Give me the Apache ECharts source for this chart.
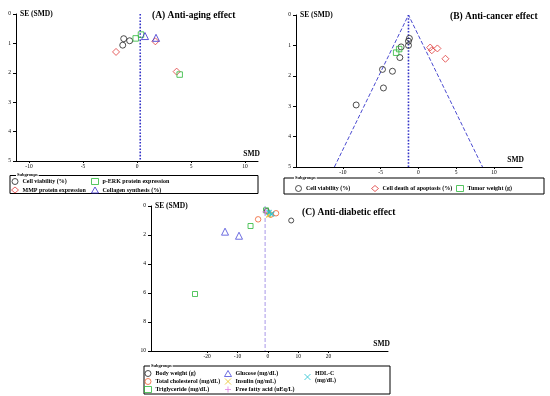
<!DOCTYPE html>
<html><head><meta charset="utf-8">
<script src="https://cdn.jsdelivr.net/npm/echarts@6/dist/echarts.min.js"></script>
<style>html,body{margin:0;padding:0;background:#fff}#c{width:550px;height:396px}</style>
</head><body><div id="c"></div>
<script>
// ---------- Panel A: Anti-aging (SMD, SE) ----------
const cellViabilityA = [[-1.23,0.84],[-0.68,0.91],[-1.32,1.06]];
const mmpA = [[-1.94,1.29],[1.7,0.93],[3.67,1.96]];
const perkA = [[-0.12,0.83],[0.37,0.70],[3.95,2.06]];
const collagenA = [[0.74,0.75],[1.76,0.81]];
const pooledA = 0.3;
const ticksA = [-10,-5,0,5,10];
// ---------- Panel B: Anti-cancer ----------
const cellViabilityB = [[-1.2,0.77],[-1.32,0.86],[-1.32,1.0],[-2.29,1.05],[-2.46,1.40],[-4.76,1.79],[-3.44,1.85],[-4.63,2.40],[-8.24,2.96]];
const apoptosisB = [[1.55,1.07],[1.77,1.16],[2.51,1.10],[3.57,1.44]];
const tumorB = [[-2.55,1.12],[-2.95,1.24]];
const pooledB = -1.32;
const funnelHalfWidthB = 9.8; // at SE = 5
const ticksB = [-10,-5,0,5,10];
// ---------- Panel C: Anti-diabetic ----------
const bodyWeightC = [[-0.33,0.35],[7.7,1.0]];
const cholesterolC = [[-3.2,0.92],[2.7,0.5],[0.9,0.6]];
const triglycerideC = [[-5.7,1.38],[-24,6.07],[-0.6,0.3]];
const glucoseC = [[-14.1,1.77],[-9.5,2.05]];
const insulinC = [[0.3,0.62]];
const ffaC = [[-0.8,0.4]];
const hdlC = [[1.3,0.55],[0.4,0.45]];
const pooledC = -0.9;
const ticksC = [-20,-10,0,10,20];

const SERIF = '"Liberation Serif","DejaVu Serif",serif';
const X_PATH = 'path://M0,0L10,10M10,0L0,10';
const PLUS_PATH = 'path://M5,0L5,10M0,5L10,5';

function hollow(c, w){ return {color:'rgba(255,255,255,0)', borderColor:c, borderWidth:w||1}; }

function xAx(gi, min, max, ticks){
  return {type:'value', gridIndex:gi, min:min, max:max,
    axisLine:{onZero:false, lineStyle:{color:'#000', width:1}},
    splitLine:{show:false},
    axisTick:{show:true, customValues:ticks, length:2, lineStyle:{color:'#000'}},
    axisLabel:{customValues:ticks, fontSize:5.5, color:'#000', margin:3, fontFamily:SERIF},
    name:'SMD', nameLocation:'end', nameGap:2,
    nameTextStyle:{fontFamily:SERIF, fontWeight:'bold', fontSize:7.5, color:'#000', align:'right', verticalAlign:'bottom', padding:[0,0,3,0]}};
}
function yAx(gi, max, interval){
  return {type:'value', gridIndex:gi, min:0, max:max, interval:interval, inverse:true,
    axisLine:{onZero:false, lineStyle:{color:'#000', width:1}},
    splitLine:{show:false},
    axisTick:{show:true, length:3, lineStyle:{color:'#000'}},
    axisLabel:{fontSize:5.5, color:'#000', margin:5, fontFamily:SERIF},
    name:'SE (SMD)', nameLocation:'start', nameGap:0,
    nameTextStyle:{fontFamily:SERIF, fontWeight:'bold', fontSize:7.5, color:'#000', align:'left', verticalAlign:'middle', padding:[0,0,0,4]}};
}
function sc(name, gi, data, symbol, size, style){
  return {type:'scatter', name:name, xAxisIndex:gi, yAxisIndex:gi, data:data, symbol:symbol, symbolSize:size, itemStyle:style, z:5};
}
function ln(gi, data, color, type, width){
  return {type:'line', xAxisIndex:gi, yAxisIndex:gi, data:data, symbol:'none', silent:true,
    lineStyle:{color:color, type:type, width:width}, z:3};
}
function leg(left, top, names, gap, ih){
  return {orient:'vertical', left:left, top:top, data:names, padding:0, itemGap:gap, itemWidth:7, itemHeight:ih,
    selectedMode:false, formatter:function(n){return n.replace(/^HDL-C /,'HDL-C\n');},
    itemStyle:{borderWidth:1},
    textStyle:{fontFamily:SERIF, fontWeight:'bold', fontSize:6, color:'#000', padding:[0,0,0,-1], lineHeight:7}};
}
function box(x,y,w,h){ return {type:'rect', shape:{x:x,y:y,width:w,height:h}, style:{fill:'none', stroke:'#000', lineWidth:1}, z:1}; }
function sub(x,y){ return {type:'text', x:x, y:y, style:{text:'Subgroups', font:'bold 4.5px '+SERIF, fill:'#000', backgroundColor:'#fff', padding:[0,1]}, z:2}; }

const chart = echarts.init(document.getElementById('c'), null, {renderer:'canvas'});
chart.setOption({
  animation:false, backgroundColor:'#fff',
  title:[
    {text:'(A) Anti-aging effect', left:152, top:11, textStyle:{fontFamily:SERIF, fontWeight:'bold', fontSize:9.5, color:'#000'}, padding:0},
    {text:'(B) Anti-cancer effect', left:450, top:12, textStyle:{fontFamily:SERIF, fontWeight:'bold', fontSize:9.5, color:'#000'}, padding:0},
    {text:'(C) Anti-diabetic effect', left:302, top:208, textStyle:{fontFamily:SERIF, fontWeight:'bold', fontSize:9.5, color:'#000'}, padding:0}
  ],
  grid:[
    {left:16, top:14, width:242, height:147},
    {left:296, top:15, width:226, height:152},
    {left:151, top:206, width:237, height:145}
  ],
  xAxis:[xAx(0,-11.2,11.2,ticksA), xAx(1,-16.2,13.7,ticksB), xAx(2,-38.5,39.6,ticksC)],
  yAxis:[yAx(0,5,1), yAx(1,5,1), yAx(2,10,2)],
  legend:[
    leg(11,178,['Cell viability (%)','MMP protein expression'],1.5,6),
    leg(91,178,['p-ERK protein expression','Collagen synthesis (%)'],1.5,6),
    leg(295,185,['Cell viability (%)'],1,6),
    leg(371,185,['Cell death of apoptosis (%)'],1,6),
    leg(456,185,['Tumor weight (g)'],1,6),
    leg(144,370,['Body weight (g)','Total cholesterol (mg/dL)','Triglyceride (mg/dL)'],1,6),
    leg(224,370,['Glucose (mg/dL)','Insulin (ng/mL)','Free fatty acid (uEq/L)'],1,6),
    leg(304,370,['HDL-C (mg/dL)'],1,6)
  ],
  graphic:[
    box(10,175.5,248,18), sub(16,172.5),
    box(284,178,260,16), sub(294,175.5),
    box(144,366,246,28), sub(150,363.5)
  ],
  series:[
    ln(0, [[pooledA,0],[pooledA,5]], '#3434c8', 'dotted', 1.6),
    sc('Cell viability (%)',0,cellViabilityA,'circle',6,hollow('#222')),
    sc('MMP protein expression',0,mmpA,'diamond',7,hollow('#e03a3a')),
    sc('p-ERK protein expression',0,perkA,'rect',5.5,hollow('#2cb83a')),
    sc('Collagen synthesis (%)',0,collagenA,'triangle',7,hollow('#3a2ecc')),

    ln(1, [[pooledB-funnelHalfWidthB,5],[pooledB,0],[pooledB+funnelHalfWidthB,5]], '#4a4ad0', 'dashed', 1),
    ln(1, [[pooledB,0],[pooledB,5]], '#3434c8', 'dotted', 1.6),
    sc('Cell viability (%)',1,cellViabilityB,'circle',6,hollow('#222')),
    sc('Cell death of apoptosis (%)',1,apoptosisB,'diamond',7,hollow('#e03a3a')),
    sc('Tumor weight (g)',1,tumorB,'rect',5.5,hollow('#2cb83a')),

    ln(2, [[pooledC,0],[pooledC,10]], '#a898e8', 'dashed', 1),
    sc('Body weight (g)',2,bodyWeightC,'circle',5,hollow('#222')),
    sc('Total cholesterol (mg/dL)',2,cholesterolC,'circle',5.5,hollow('#f06030')),
    sc('Triglyceride (mg/dL)',2,triglycerideC,'rect',5,hollow('#2cb83a')),
    sc('Glucose (mg/dL)',2,glucoseC,'triangle',7,hollow('#4a4ad8')),
    sc('Insulin (ng/mL)',2,insulinC,X_PATH,5,hollow('#e8c020',1.3)),
    sc('Free fatty acid (uEq/L)',2,ffaC,PLUS_PATH,6,hollow('#e080e0',1.2)),
    sc('HDL-C (mg/dL)',2,hdlC,X_PATH,5,hollow('#20c0d0',1.3))
  ]
});
</script></body></html>
